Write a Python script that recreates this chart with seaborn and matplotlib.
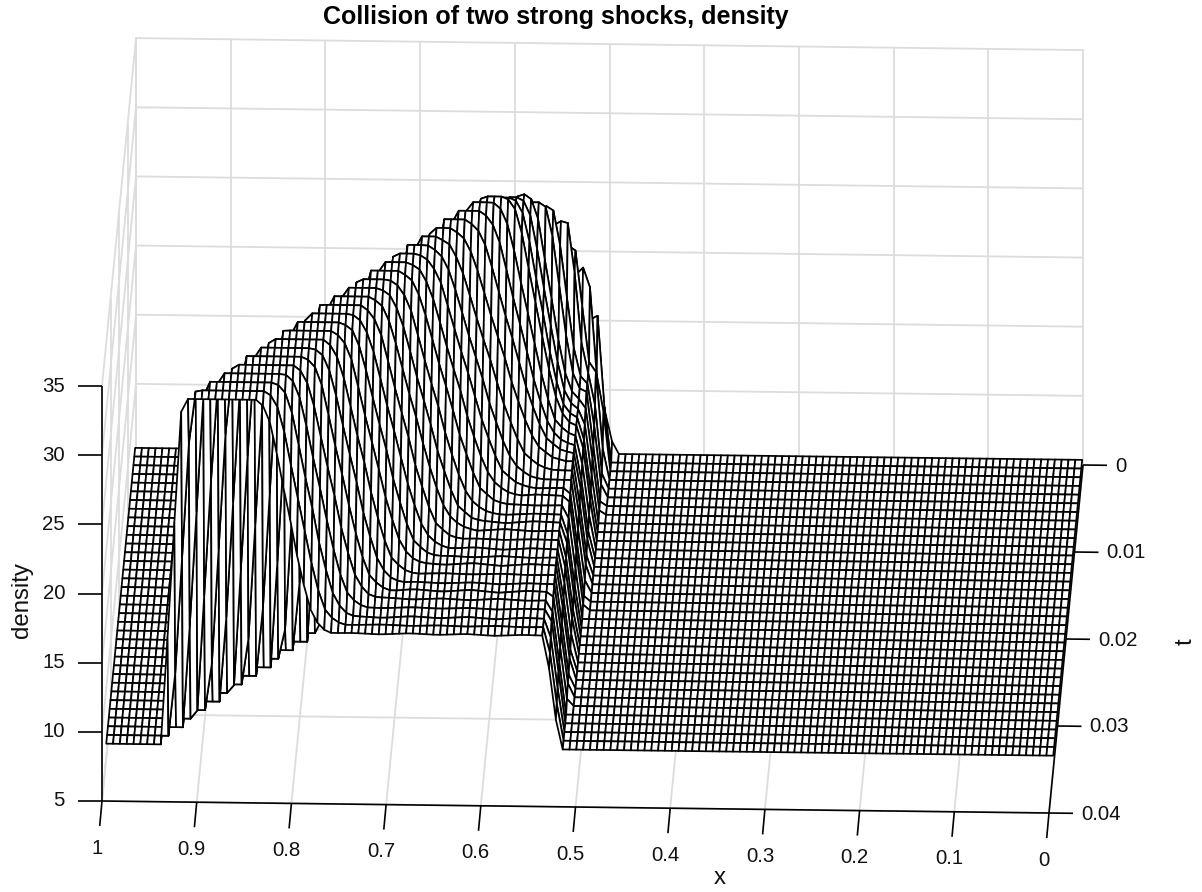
import numpy as np
import pandas as pd
import seaborn as sns
import matplotlib.pyplot as plt
from matplotlib.collections import PolyCollection

# density rows, one entry per time level
t_rows = [0.001, 0.002, 0.003, 0.004, 0.005, 0.006, 0.007, 0.008, 0.009, 0.010, 0.011, 0.012,
          0.013, 0.014, 0.015, 0.016, 0.017, 0.018, 0.019, 0.020, 0.021, 0.022, 0.023, 0.024,
          0.025, 0.026, 0.027, 0.028, 0.029, 0.030, 0.031, 0.032, 0.033, 0.034, 0.035]
left_foot = [.494, .497, .499, .501, .502, .502, .503, .503, .504, .505, .505, .506,
             .507, .507, .508, .508, .509, .510, .510, .511, .512, .512, .513, .513,
             .514, .515, .515, .516, .516, .517, .518, .518, .519, .520, .521]
left_top = [.498, .503, .506, .510, .514, .516, .518, .519, .520, .521, .521, .522,
            .523, .523, .524, .524, .525, .526, .526, .527, .528, .528, .529, .529,
            .530, .531, .531, .532, .532, .533, .534, .534, .535, .536, .537]
contact_foot = [.4995, .505, .508, .512, .516, .518, .520, .521, .522, .523, .523, .525,
                .526, .527, .533, .544, .556, .567, .579, .590, .602, .613, .624, .636,
                .647, .659, .670, .682, .693, .705, .716, .728, .739, .7505, .762]
contact_top = [.5015, .507, .521, .535, .5405, .557, .5645, .580, .586, .593, .600, .612,
               .625, .640, .655, .668, .677, .686, .695, .704, .714, .723, .732, .741,
               .750, .759, .768, .777, .786, .795, .805, .814, .823, .832, .841]
shock_top = [.503, .515, .528, .540, .552, .564, .576, .589, .601, .613, .625, .637,
             .650, .662, .674, .686, .698, .711, .723, .735, .747, .759, .772, .784,
             .796, .808, .820, .833, .845, .857, .869, .881, .894, .906, .916]
shock_foot = [.529, .541, .554, .566, .578, .590, .602, .615, .627, .639, .651, .663,
              .676, .688, .700, .712, .724, .737, .749, .761, .773, .785, .798, .810,
              .822, .834, .846, .859, .871, .883, .895, .907, .920, .932, .942]
peak_z = [9.0, 16.6, 20.7, 22.9, 25.3, 27.0, 27.9, 29.1, 29.5, 30.1, 30.8, 31.0,
          31.0, 31.0, 31.0, 31.0, 31.0, 31.0, 31.0, 31.0, 31.0, 31.0, 31.0, 31.0,
          31.0, 31.0, 31.0, 31.0, 31.0, 31.0, 31.0, 31.0, 31.0, 31.0, 31.0]
mid_z = [7.5, 10.0, 12.5, 13.8, 14.2, 14.2, 14.25, 14.2, 14.15, 14.2, 14.25, 14.2,
         14.15, 14.2, 14.25, 14.2, 14.15, 14.2, 14.25, 14.2, 14.15, 14.2, 14.25, 14.2,
         14.15, 14.2, 14.25, 14.2, 14.15, 14.2, 14.25, 14.2, 14.15, 14.2, 14.2]
base_z = 6.0

# shape of the contact ramp, foot to top, as seen on the front row
contact_pos = [0, .12, .25, .33, .45, .53, .63, .72, .80, .89, 1]
contact_frac = [0, .017, .068, .15, .31, .45, .60, .75, .88, .966, 1]

# small waves on the middle plateau
ripple_x = [.53, .56, .59, .62, .65, .68, .71, .74, .77]
ripple_z = [0, .08, -.08, .1, -.05, .1, -.08, .05, 0]
ripple_amp = [0, 0, 0, 0, 0, 0, 0, 0, .3, 1, .5, -.8, 1, .6, -1, .8, .4, -.6, 1, -.5, .7, 1, -.8, .4,
              .8, -.6, 1, -.4, .6, 1, -.7, .5, .8, -.4, .6]

x_ticks = [1, 0.9, 0.8, 0.7, 0.6, 0.5, 0.4, 0.3, 0.2, 0.1, 0]
x_labels = ["1", "0.9", "0.8", "0.7", "0.6", "0.5", "0.4", "0.3", "0.2", "0.1", "0"]
t_ticks = [0, 0.01, 0.02, 0.03, 0.04]
t_labels = ["0", "0.01", "0.02", "0.03", "0.04"]
z_ticks = [5, 10, 15, 20, 25, 30, 35]
z_labels = ["5", "10", "15", "20", "25", "30", "35"]

grid_x = np.linspace(0, 1, 140)


def proj(x, t, z):
    f = (0.04 - np.asarray(t)) / 0.04
    return (1049 - 947 * np.asarray(x) + 34 * f,
            813 - 12 * np.asarray(x) - 348 * f - 13.83 * (np.asarray(z) - 5))


def row_profile(i):
    span = contact_top[i] - contact_foot[i]
    xp = [left_foot[i], left_top[i]]
    fp = [base_z, mid_z[i]]
    for p, s in zip(contact_pos, contact_frac):
        xp.append(contact_foot[i] + p * span)
        fp.append(mid_z[i] + s * (peak_z[i] - mid_z[i]))
    shock_w = shock_foot[i] - shock_top[i]
    xp += [shock_top[i], shock_top[i] + 0.2 * shock_w, shock_foot[i]]
    fp += [peak_z[i], base_z + 0.96 * (peak_z[i] - base_z), base_z]
    z = np.interp(grid_x, xp, fp)
    # waves only where the row sits on the plateau
    waves = ripple_amp[i] * np.interp(grid_x, ripple_x, ripple_z, left=0, right=0)
    waves[(grid_x < left_top[i]) | (grid_x > contact_foot[i])] = 0
    return z + waves


def grid_frame():
    rows = []
    n = 0
    for z in z_ticks:
        # back wall and left wall
        for a, b in [((1, 0, z), (0, 0, z)), ((1, 0, z), (1, 0.04, z))]:
            rows.append((n, *proj(*a)))
            rows.append((n, *proj(*b)))
            n += 1
    for x in x_ticks:
        for a, b in [((x, 0, 5), (x, 0, 35)), ((x, 0, 5), (x, 0.04, 5))]:
            rows.append((n, *proj(*a)))
            rows.append((n, *proj(*b)))
            n += 1
    for t in t_ticks:
        for a, b in [((1, t, 5), (0, t, 5)), ((1, t, 5), (1, t, 35))]:
            rows.append((n, *proj(*a)))
            rows.append((n, *proj(*b)))
            n += 1
    return pd.DataFrame(rows, columns=["line", "sx", "sy"])


def main():
    sns.set_theme(style="white")
    plt.rcParams["font.family"] = ["Liberation Sans", "DejaVu Sans"]

    fig = plt.figure(figsize=(12.02, 8.92), dpi=100)
    ax = fig.add_axes([0, 0, 1, 1])

    sns.lineplot(data=grid_frame(), x="sx", y="sy", units="line", estimator=None, sort=False,
                 color="#DCDCDC", linewidth=1.3, legend=False, ax=ax)

    # back to front, far x first, white cells hide what is behind
    Z = np.array([row_profile(i) for i in range(len(t_rows))])
    polys = []
    for i in range(len(t_rows) - 1):
        for j in range(len(grid_x) - 1, 0, -1):
            xs = [grid_x[j], grid_x[j - 1], grid_x[j - 1], grid_x[j]]
            ts = [t_rows[i], t_rows[i], t_rows[i + 1], t_rows[i + 1]]
            zs = [Z[i, j], Z[i, j - 1], Z[i + 1, j - 1], Z[i + 1, j]]
            sx, sy = proj(xs, ts, zs)
            polys.append(np.column_stack([sx, sy]))
    ax.add_collection(PolyCollection(polys, facecolors="white", edgecolors="black",
                                     linewidths=1.25, joinstyle="round", zorder=3))

    # box axes
    black = dict(color="black", lw=1.2, zorder=4, solid_capstyle="butt")
    sx, sy = proj([1, 1], [0.04, 0.04], [5, 35])
    ax.plot(sx, sy, **black)
    sx, sy = proj([1, 0], [0.04, 0.04], [5, 5])
    ax.plot(sx, sy, **black)
    sx, sy = proj([0, 0], [0, 0.04], [5, 5])
    ax.plot(sx, sy, **black)

    fs = 14.7
    for z, lab in zip(z_ticks, z_labels):
        sx, sy = proj(1, 0.04, z)
        ax.plot([sx, sx - 24], [sy, sy], **black)
        ax.text(sx - 37, sy, lab, ha="right", va="center", fontsize=fs, color="#111111")
    for x, lab in zip(x_ticks, x_labels):
        sx, sy = proj(x, 0.04, 5)
        ax.plot([sx, sx - 2.3], [sy, sy + 25], **black)
        ax.text(sx - 5, sy + 47, lab, ha="center", va="center", fontsize=fs, color="#111111")
    for t, lab in zip(t_ticks, t_labels):
        sx, sy = proj(0, t, 5)
        ax.plot([sx, sx + 24], [sy, sy + 0.3], **black)
        ax.text(sx + 32, sy + 1, lab, ha="left", va="center", fontsize=fs, color="#111111")

    ax.text(720, 878, "x", ha="center", va="center", fontsize=17.3, color="#111111")
    ax.text(1186, 642, "t", ha="center", va="center", rotation=90, fontsize=17.3, color="#111111")
    ax.text(22, 600, "density", ha="center", va="center", rotation=90, fontsize=17.3, color="#111111")
    ax.text(322.7, 17, "Collision of two strong shocks, density", ha="left", va="center",
            fontsize=18, fontweight="bold", color="black")

    ax.set_xlim(0, 1202)
    ax.set_ylim(892, 0)
    ax.axis("off")
    fig.savefig("out.png", dpi=100)
    plt.close(fig)


if __name__ == "__main__":
    main()
